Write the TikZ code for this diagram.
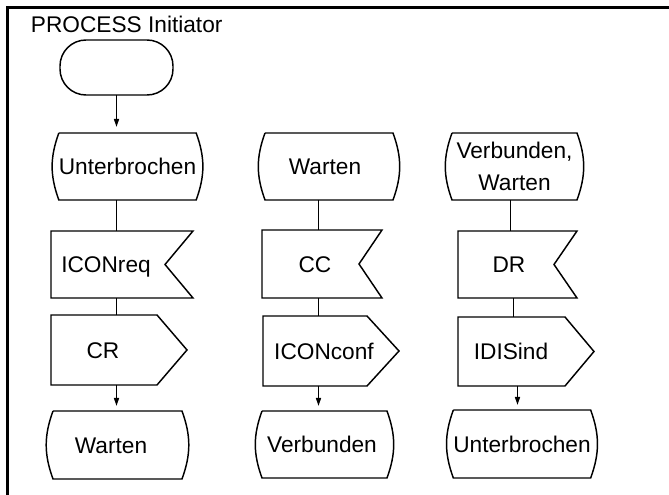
\documentclass[tikz,border=0pt]{standalone}
\usepackage{fontspec}
\setmainfont{Liberation Sans}
\usetikzlibrary{calc,arrows.meta}
\newdimen\pxu \pxu=0.75pt
\begin{document}
\begin{tikzpicture}[x=0.75pt,y=-0.75pt,
  shp/.style={line width=1.1pt, line join=miter},
  arr/.style={shp, -{Triangle[width=3.75pt,length=6pt]}, shorten >=3.75pt},
  box/.style={draw=none, inner sep=0pt, outer sep=0pt, font=\fontsize{17}{24}\selectfont, text height=12.2pt, text depth=0pt},
  frame/.style={line width=2.25pt, line join=miter}]
\useasboundingbox (0,0) rectangle (669,495);
% frame
\draw[frame] (7.5,505) -- (7.5,7.5) -- (680,7.5);
\node[box, anchor=base west] (title) at (31,32.5) {PROCESS Initiator};
% start
\node[shp, draw, inner sep=0pt, outer sep=0pt, minimum width=113\pxu, minimum height=55\pxu, rounded corners=26\pxu] (start) at (116.5,67.5) {};
% column 1
\node[box, minimum width=131\pxu, minimum height=67\pxu] (s1) at (127.5,166.5) {Unterbrochen};
\node[box, minimum width=142\pxu, minimum height=67\pxu] (i1) at (122,264.5) {ICONreq\hspace*{32\pxu}};
\node[box, minimum width=136\pxu, minimum height=70\pxu] (o1) at (119,350) {CR\hspace*{32\pxu}};
\node[box, minimum width=129\pxu, minimum height=68\pxu] (s2) at (117.5,445) {Warten\hspace*{13\pxu}};
% column 2
\node[box, minimum width=128\pxu, minimum height=67\pxu] (s3) at (329,166.5) {Warten\hspace*{8\pxu}};
\node[box, minimum width=120\pxu, minimum height=68\pxu] (i2) at (322,264) {CC\hspace*{14\pxu}};
\node[box, minimum width=136\pxu, minimum height=70\pxu] (o2) at (331,351) {ICONconf\hspace*{14\pxu}};
\node[box, minimum width=125\pxu, minimum height=67\pxu] (s4) at (324.5,444.5) {Verbunden\hspace*{5\pxu}};
% column 3
\node[box, text height={}, text depth={}, align=center, minimum width=125\pxu, minimum height=67\pxu] (s5) at (514.5,166.5) {Verbunden,\\Warten};
\node[box, minimum width=119\pxu, minimum height=67\pxu] (i3) at (517.5,264.5) {DR\hspace*{17\pxu}};
\node[box, minimum width=136\pxu, minimum height=69\pxu] (o3) at (526,351.5) {IDISind\hspace*{30\pxu}};
\node[box, minimum width=130\pxu, minimum height=68\pxu] (s6) at (522,444) {Unterbrochen};
% outlines
\foreach \n in {s1,s2,s3,s4,s5,s6}
  \draw[shp] (\n.north west) -- (\n.north east) to[bend left=20] (\n.south east) -- (\n.south west) to[bend left=20] (\n.north west);
\foreach \n/\d in {i1/28,i2/23,i3/23}
  \draw[shp] (\n.north west) -- (\n.north east) -- ($(\n.east)+(-\d,0)$) -- (\n.south east) -- (\n.south west) -- cycle;
\foreach \n/\d in {o1/30,o2/32,o3/29}
  \draw[shp] (\n.north west) -- ($(\n.north east)+(-\d,0)$) -- (\n.east) -- ($(\n.south east)+(-\d,0)$) -- (\n.south west) -- cycle;
% connector columns
\coordinate (c1) at (116.5,0);
\coordinate (c2) at (318.5,0);
\coordinate (c3a) at (510.5,0);
\coordinate (c3b) at (513.5,0);
\coordinate (c3c) at (517.5,0);
% connectors
\draw[arr, shorten >=4.5pt] (start.south -| c1) -- (s1.north -| c1);
\draw[shp] (s1.south -| c1) -- (i1.north -| c1);
\draw[shp] (i1.south -| c1) -- (o1.north -| c1);
\draw[arr] (o1.south -| c1) -- (s2.north -| c1);
\draw[shp] (s3.south -| c2) -- (i2.north -| c2);
\draw[shp] (i2.south -| c2) -- (o2.north -| c2);
\draw[arr] (o2.south -| c2) -- (s4.north -| c2);
\draw[shp] (s5.south -| c3a) -- (i3.north -| c3a);
\draw[shp] (i3.south -| c3b) -- (o3.north -| c3b);
\draw[arr] (o3.south -| c3c) -- (s6.north -| c3c);
\end{tikzpicture}
\end{document}
